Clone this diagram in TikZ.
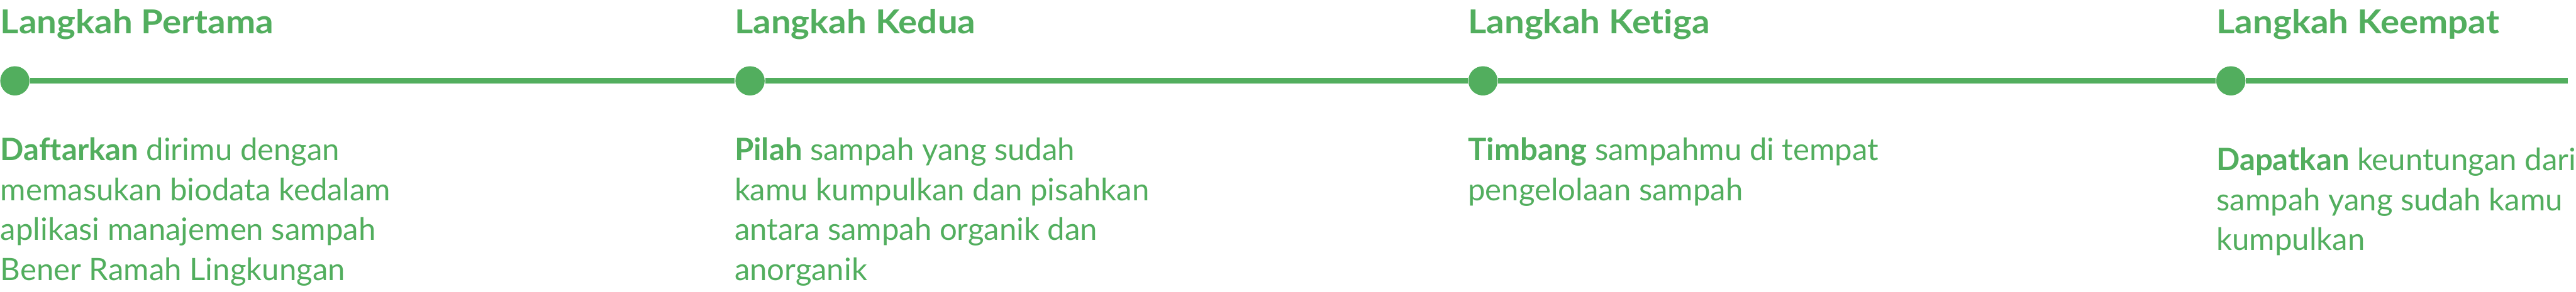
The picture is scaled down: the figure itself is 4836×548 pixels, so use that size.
\documentclass[tikz,border=0pt]{standalone}
\usepackage{fontspec}
\setmainfont{Lato}[Ligatures=NoCommon]
\newfontfamily\titlefont{Lato}[FakeStretch=1.075, Ligatures=NoCommon]
\definecolor{leaf}{HTML}{52AE5E}
\begin{document}
\begin{tikzpicture}[x=0.2pt,y=-0.2pt,
  steptitle/.style={anchor=base west, inner sep=0pt, text=leaf,
    font=\titlefont\fontsize{12.4pt}{15pt}\selectfont\bfseries},
  stepbody/.style={anchor=base west, inner sep=0pt, align=left, text=leaf,
    font=\fontsize{11.6pt}{15pt}\selectfont},
  stepdot/.style={circle, fill=leaf, minimum size=11pt, inner sep=0pt},
  track/.style={draw=leaf, line width=2.2pt}]
\useasboundingbox (0,0) rectangle (4836,548);
\node[stepdot] (d1) at (28,152) {};
\node[stepdot] (d2) at (1408,152) {};
\node[stepdot] (d3) at (2784,152) {};
\node[stepdot] (d4) at (4188,152) {};
\coordinate (end) at (4820,152);
\draw[track] (d1) -- (d2) -- (d3) -- (d4) -- (end);
\node[steptitle] (t1) at (0,63) {Langkah Pertama};
\node[steptitle] (t2) at (1378,63) {Langkah Kedua};
\node[steptitle] (t3) at (2755,63) {Langkah Ketiga};
\node[steptitle] (t4) at (4160,63) {Langkah Keempat};
% base anchor of a multi-line node lies on its last line
\node[stepbody] (b1) at (0,527) {\textbf{Daftarkan} dirimu dengan\\memasukan biodata kedalam\\aplikasi manajemen sampah\\Bener Ramah Lingkungan};
\node[stepbody] (b2) at (1378,527) {\textbf{Pilah} sampah yang sudah\\kamu kumpulkan dan pisahkan\\antara sampah organik dan\\anorganik};
\node[stepbody] (b3) at (2755,377) {\textbf{Timbang} sampahmu di tempat\\pengelolaan sampah};
\node[stepbody] (b4) at (4160,471) {\textbf{Dapatkan} keuntungan dari\\sampah yang sudah kamu\\kumpulkan};
\end{tikzpicture}
\end{document}
